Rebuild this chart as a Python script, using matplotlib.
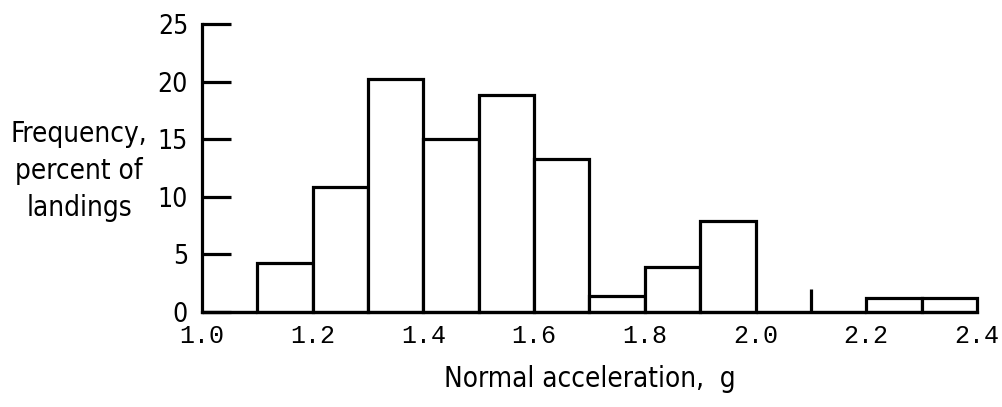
import matplotlib.pyplot as plt

# histogram bins (g) and frequencies (percent of landings)
bin_left = [1.0, 1.1, 1.2, 1.3, 1.4, 1.5, 1.6, 1.7, 1.8, 1.9, 2.0, 2.1, 2.2, 2.3]
freq = [0, 4.2, 10.8, 20.2, 15.0, 18.8, 13.3, 1.4, 3.9, 7.9, 0, 0, 1.2, 1.2]
mark_x = [2.1]
mark_h = [2.0]
xticks = [1.0, 1.2, 1.4, 1.6, 1.8, 2.0, 2.2, 2.4]
yticks = [0, 5, 10, 15, 20, 25]

fig = plt.figure(figsize=(10.03, 4.07), dpi=100)
ax = fig.add_axes([0.2014, 0.234, 0.7726, 0.707])

ax.bar(bin_left, freq, width=0.1, align='edge', facecolor='white',
       edgecolor='black', linewidth=2.3, clip_on=False, zorder=3)
ax.vlines(mark_x, 0, mark_h, color='black', linewidth=2.3, zorder=3)

ax.set_xlim(1.0, 2.4)
ax.set_ylim(0, 25)
for s in ['top', 'right']:
    ax.spines[s].set_visible(False)
ax.spines['left'].set_linewidth(2.3)
ax.spines['bottom'].set_linewidth(2.3)
ax.spines['left'].set_zorder(4)
ax.spines['bottom'].set_zorder(4)

ax.set_yticks(yticks)
ax.set_yticklabels([str(v) for v in yticks], family='DejaVu Sans',
                   fontstretch='condensed', fontsize=19)
ax.tick_params(axis='y', direction='in', length=21, width=2.3, pad=10)

ax.set_xticks(xticks)
ax.set_xticklabels(['%.1f' % v for v in xticks], family='Liberation Mono',
                   fontsize=18)
ax.tick_params(axis='x', length=0, pad=9)

ax.set_xlabel('Normal acceleration,  g', family='DejaVu Sans',
              fontstretch='condensed', fontsize=20, labelpad=12)
fig.text(0.079, 0.58, 'Frequency,\npercent of\nlandings', ha='center',
         va='center', family='DejaVu Sans', fontstretch='condensed',
         fontsize=20, linespacing=1.4)

fig.savefig('out.png', dpi=100)
